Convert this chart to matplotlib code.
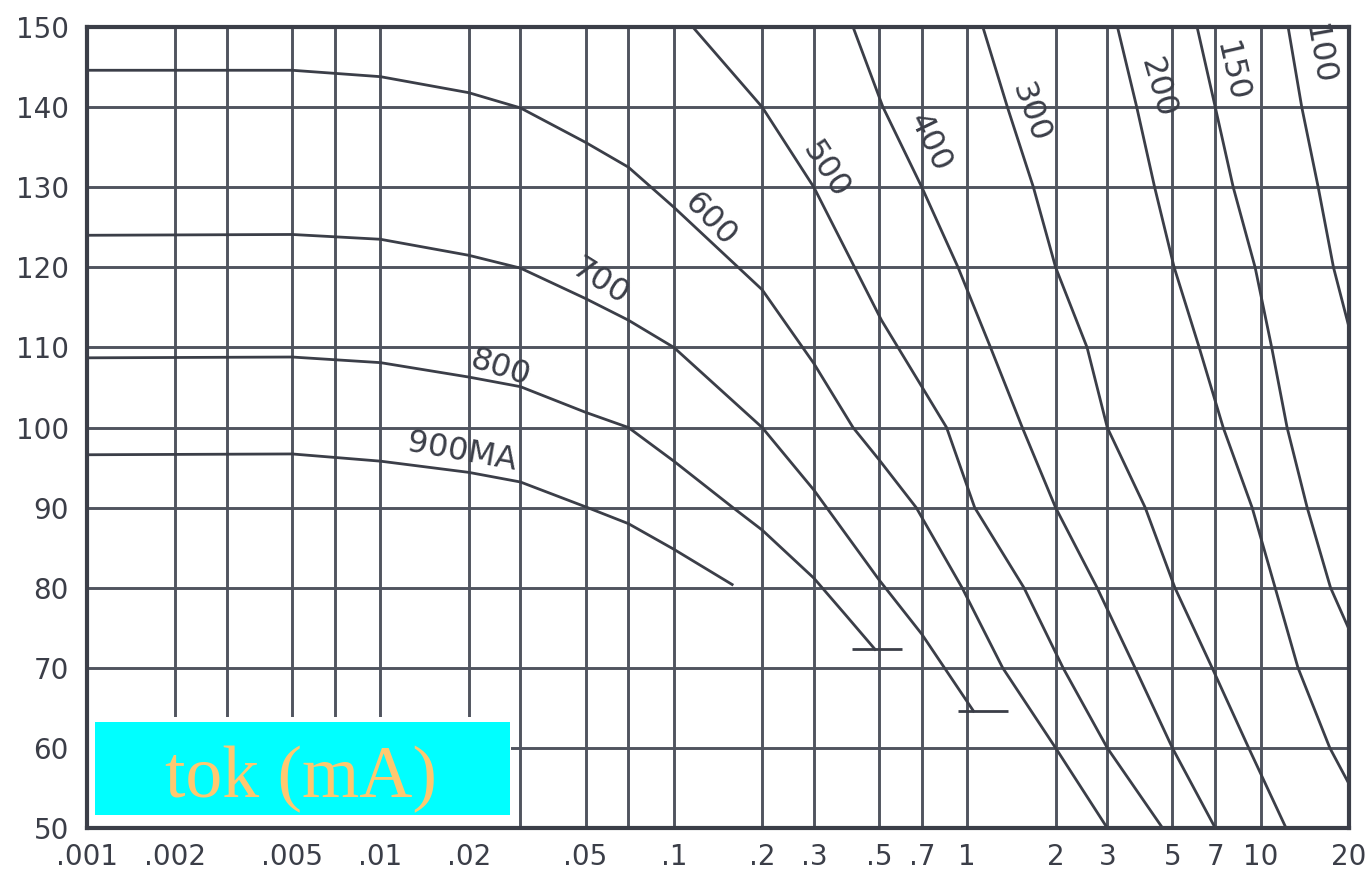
import matplotlib.pyplot as plt
from matplotlib.ticker import FixedLocator, FixedFormatter, NullFormatter
from matplotlib.patches import Rectangle

# axis ticks and grid
tick_vals = [0.001, 0.002, 0.005, 0.01, 0.02, 0.05, 0.1, 0.2, 0.3, 0.5, 0.7,
             1, 2, 3, 5, 7, 10, 20]
tick_text = ['.001', '.002', '.005', '.01', '.02', '.05', '.1', '.2', '.3', '.5', '.7',
             '1', '2', '3', '5', '7', '10', '20']
grid_x = [0.003, 0.007, 0.03, 0.07]
y_ticks = [50, 60, 70, 80, 90, 100, 110, 120, 130, 140, 150]

# curves (x, y)
x_900 = [0.001, 0.005, 0.01, 0.02, 0.03, 0.05, 0.07, 0.1, 0.158]
y_900 = [96.6, 96.7, 95.8, 94.4, 93.2, 90.1, 88.0, 84.8, 80.4]

x_800 = [0.001, 0.005, 0.01, 0.02, 0.03, 0.05, 0.07, 0.1, 0.159, 0.2, 0.3, 0.385, 0.485]
y_800 = [108.7, 108.8, 108.1, 106.3, 105.1, 101.9, 100.0, 95.8, 90.0, 87.2, 81.2, 76.6, 72.3]

x_700 = [0.001, 0.005, 0.01, 0.02, 0.03, 0.05, 0.07, 0.1, 0.2, 0.3, 0.5, 0.7, 1.05]
y_700 = [124.0, 124.1, 123.5, 121.5, 119.9, 116.1, 113.4, 110.0, 100.0, 92.2, 81.0, 74.2, 64.6]

x_600 = [0.001, 0.005, 0.01, 0.02, 0.03, 0.05, 0.07, 0.1, 0.2, 0.3, 0.408, 0.5, 0.67,
         0.96, 1.32, 2.0, 3.0]
y_600 = [144.6, 144.6, 143.8, 141.8, 139.9, 135.6, 132.5, 127.5, 117.2, 108.0, 100.0, 96.0, 90.0,
         80.0, 70.0, 60.0, 50.0]

x_500 = [0.116, 0.2, 0.3, 0.51, 0.7, 0.85, 1.06, 1.56, 2.12, 3.0, 4.63]
y_500 = [150, 140, 130, 113.4, 105.1, 100, 90, 80, 70, 60, 50]

x_400 = [0.408, 0.516, 0.7, 0.93, 1.2, 1.54, 2.0, 2.77, 3.73, 5.0, 7.0]
y_400 = [150, 140, 130, 120, 110, 100, 90, 80, 70, 60, 50]

x_300 = [1.13, 1.37, 1.68, 2.0, 2.56, 3.0, 4.04, 5.1, 6.83, 9.1, 12.2]
y_300 = [150, 140, 130, 120, 110, 100, 90, 80, 70, 60, 50]

x_200 = [3.25, 3.78, 4.35, 5.07, 6.17, 7.45, 9.35, 11.2, 13.4, 17.2, 20]
y_200 = [150, 140, 130, 120, 110, 100, 90, 80, 70, 60, 55.5]

x_150 = [6.07, 7.0, 8.06, 9.57, 10.9, 12.3, 14.4, 17.3, 20]
y_150 = [150, 140, 130, 120, 110, 100, 90, 80, 74.8]

x_100 = [12.4, 13.8, 15.7, 17.7, 20]
y_100 = [150, 140, 130, 120, 112.5]

# short end bars on the 800 and 700 curves (centre x)
bar_800_x = 0.493
bar_700_x = 1.13

# curve labels: text, x, y, rotation
label_text = ['900MA', '800', '700', '600', '500', '400', '300', '200', '150', '100']
label_x = [0.019, 0.0256, 0.056, 0.1327, 0.3275, 0.746, 1.64, 4.44, 7.87, 15.7]
label_y = [96.9, 107.4, 118.2, 125.9, 132.1, 135.5, 139.3, 142.4, 144.4, 146.5]
label_rot = [-10, -18, -32, -46, -57, -64, -70, -74, -77, -80]

ink = '#3b3e48'
grid_col = '#50545f'

fig = plt.figure(figsize=(13.7, 8.74), dpi=100)
ax = fig.add_axes([0.0635, 0.0526, 0.9212, 0.9165])
ax.set_xscale('log')
ax.set_xlim(0.001, 20)
ax.set_ylim(50, 150)

ax.xaxis.set_major_locator(FixedLocator(tick_vals))
ax.xaxis.set_major_formatter(FixedFormatter(tick_text))
ax.xaxis.set_minor_locator(FixedLocator(grid_x))
ax.xaxis.set_minor_formatter(NullFormatter())
ax.set_yticks(y_ticks)
ax.tick_params(which='both', length=0, labelsize=20, labelcolor=ink)
ax.tick_params(axis='x', pad=11)
ax.tick_params(axis='y', pad=13)
ax.set_axisbelow(True)
ax.grid(True, which='both', color=grid_col, linewidth=2.1)

for side in ax.spines.values():
    side.set_linewidth(3)
    side.set_color(ink)

curves = [(x_900, y_900), (x_800, y_800), (x_700, y_700), (x_600, y_600), (x_500, y_500),
          (x_400, y_400), (x_300, y_300), (x_200, y_200), (x_150, y_150), (x_100, y_100)]
for xs, ys in curves:
    ax.plot(xs, ys, color=ink, linewidth=2.0, zorder=2)

# end bars
ax.plot(bar_800_x, y_800[-1], marker='_', markersize=36, markeredgewidth=2, color=ink)
ax.plot(bar_700_x, y_700[-1], marker='_', markersize=36, markeredgewidth=2, color=ink)

for s, lx, ly, r in zip(label_text, label_x, label_y, label_rot):
    ax.text(lx, ly, s, rotation=r, rotation_mode='anchor', ha='center', va='center',
            fontsize=23, color=ink, zorder=3)

# caption box in the lower left corner
ax.add_patch(Rectangle((0, 0), 0.336, 0.1386, transform=ax.transAxes,
                       facecolor='white', edgecolor='none', zorder=1.5))
ax.add_patch(Rectangle((0.0063, 0.0162), 0.329, 0.116, transform=ax.transAxes,
                       facecolor='#00ffff', edgecolor='none', zorder=1.6))
ax.text(0.1696, 0.0387, 'tok (mA)', transform=ax.transAxes, ha='center', va='baseline',
        fontsize=53, family='Liberation Serif', color='#ffc870', zorder=1.7)

fig.savefig('out.png', dpi=100)
